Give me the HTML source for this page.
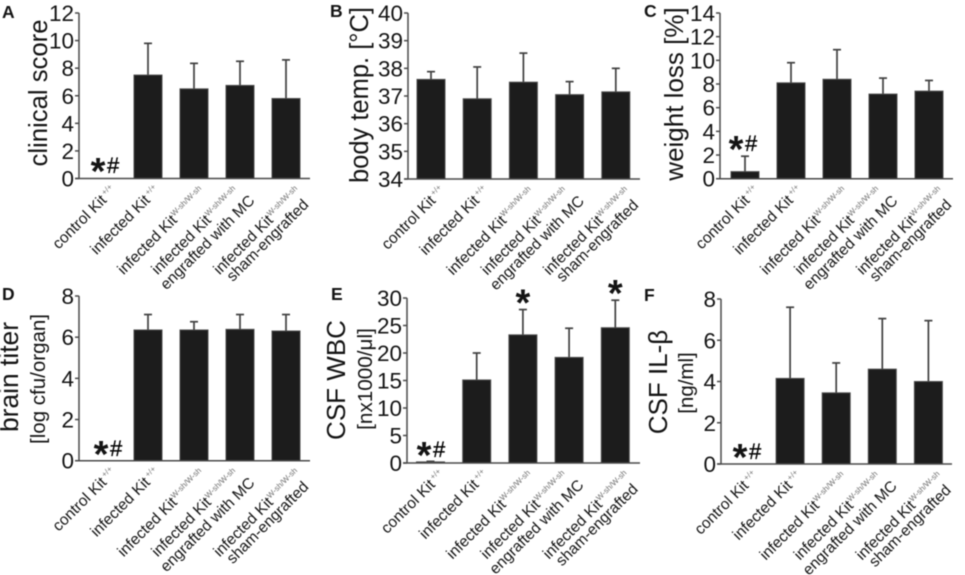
<!DOCTYPE html>
<html>
<head>
<meta charset="utf-8">
<title>Six panel bar charts</title>
<style>
html,body{margin:0;padding:0;background:#fff;width:965px;height:575px;overflow:hidden}
svg{display:block;filter:blur(0.5px)}
text{font-family:"Liberation Sans",Arial,sans-serif;fill:#141414}
</style>
</head>
<body>
<svg id="figure" width="965" height="575" viewBox="0 0 965 575" xmlns="http://www.w3.org/2000/svg"></svg>
<script>
const catLine1 = ['control Kit', 'infected Kit', 'infected Kit', 'infected Kit', 'infected Kit'];
const catSup = ['+/+', '+/+', 'W-sh/W-sh', 'W-sh/W-sh', 'W-sh/W-sh'];
const catLine2 = ['', '', '', 'engrafted with MC', 'sham-engrafted'];

const aTicks = [0, 2, 4, 6, 8, 10, 12];
const aValues = [0, 7.5, 6.5, 6.75, 5.8];
const aErrTops = [0, 9.8, 8.35, 8.5, 8.6];

const bTicks = [34, 35, 36, 37, 38, 39, 40];
const bValues = [37.6, 36.9, 37.5, 37.05, 37.15];
const bErrTops = [37.88, 38.05, 38.55, 37.52, 38.0];

const cTicks = [0, 2, 4, 6, 8, 10, 12, 14];
const cValues = [0.6, 8.1, 8.4, 7.15, 7.4];
const cErrTops = [1.9, 9.8, 10.9, 8.5, 8.3];

const dTicks = [0, 2, 4, 6, 8];
const dValues = [0, 6.35, 6.35, 6.38, 6.3];
const dErrTops = [0, 7.1, 6.75, 7.1, 7.1];

const eTicks = [0, 5, 10, 15, 20, 25, 30];
const eValues = [0.2, 15.1, 23.3, 19.2, 24.6];
const eErrTops = [0.3, 20, 27.9, 24.5, 29.6];

const fTicks = [0, 2, 4, 6, 8];
const fValues = [0, 4.15, 3.45, 4.6, 4];
const fErrTops = [0, 7.6, 4.9, 7.05, 6.95];

const NS = 'http://www.w3.org/2000/svg';
const root = document.getElementById('figure');

function make(parent, tag, attrs, text) {
  const el = document.createElementNS(NS, tag);
  for (const k in attrs) el.setAttribute(k, attrs[k]);
  if (text !== undefined) el.textContent = text;
  parent.appendChild(el);
  return el;
}

function vtext(g, str, x, cy, size, name) {
  const t = make(g, 'text', {
    transform: 'translate(' + x + ',' + cy + ') rotate(-90)',
    'text-anchor': 'middle',
    'font-size': size
  }, str);
  
  
}

function star(g, cx, cy, name) {
  const t = make(g, 'text', {
    x: cx, y: cy + 19, 'text-anchor': 'middle', 'font-size': 38, 'font-weight': 'bold'
  }, '*');
  
  
}

function hash(g, x, y, name) {
  const t = make(g, 'text', { x: x, y: y, 'font-size': 22, style: 'fill:#000;stroke:#000;stroke-width:0.3' }, '#');
  
  
}

function labelShift(i) {
  if (i === 0) return { x1: 15, y1: 13 };
  if (i === 1) return { x1: 12.5, y1: 13 };
  if (i === 2) return { x1: 12, y1: 14.5 };
  if (i === 3) return { x1: 0, y1: 14.5, x2: 15.5, y2: 23 };
  return { x1: 16, y1: 14.5, x2: 23.5, y2: 27 };
}

function drawPanel(p) {
  const g = make(root, 'g', {});
  
  

  const min = p.ticks[0];
  const max = p.ticks[p.ticks.length - 1];
  const yScale = function (v) { return p.bottom - (v - min) / (max - min) * (p.bottom - p.top); };
  const xScale = function (i) { return p.firstX + i * p.stepX; };

  const letter = make(g, 'text', { x: p.letterX, y: p.letterY, 'font-size': 17.5, 'font-weight': 'bold' }, p.id);
  
  

  vtext(g, p.title, p.titleX, p.titleCy, p.titleSize, 'y-axis-title');
  if (p.sub) vtext(g, p.sub, p.subX, p.subCy, p.subSize, 'y-axis-unit');

  p.values.forEach(function (v, i) {
    const cx = xScale(i);
    const top = yScale(v);
    const errTop = yScale(p.errTops[i]);
    if (p.errTops[i] > v) {
      const stem = make(g, 'line', { x1: cx, x2: cx, y1: top, y2: errTop, stroke: '#404040', 'stroke-width': 1.7 });
      
      
      const cap = make(g, 'line', { x1: cx - 4, x2: cx + 4, y1: errTop, y2: errTop, stroke: '#404040', 'stroke-width': 1.7 });
      
      
    }
    if (v > min) {
      const bar = make(g, 'rect', {
        x: cx - 14, y: top, width: 28, height: p.bottom - top,
        fill: '#1c1c1c', stroke: '#4d4d4d', 'stroke-width': 1
      });
      
      
    }
  });

  const yAxis = make(g, 'line', { x1: p.axisX, x2: p.axisX, y1: p.top, y2: p.bottom, stroke: '#4a4a4a', 'stroke-width': 1.5 });
  
  
  const xAxis = make(g, 'line', { x1: p.axisX - 4, x2: p.axisEnd, y1: p.bottom, y2: p.bottom, stroke: '#4a4a4a', 'stroke-width': 1.5 });
  
  

  p.ticks.forEach(function (t) {
    const y = yScale(t);
    const tick = make(g, 'line', { x1: p.axisX - 4, x2: p.axisX, y1: y, y2: y, stroke: '#4a4a4a', 'stroke-width': 1.5 });
    
    
    const label = make(g, 'text', { x: p.axisX - 5, y: y + 8, 'text-anchor': 'end', 'font-size': 22.5 }, String(t));
    
    
  });

  catLine1.forEach(function (line, i) {
    const cx = xScale(i);
    const s = labelShift(i);
    const lab = make(g, 'text', {
      transform: 'translate(' + (cx + s.x1) + ',' + (p.bottom + s.y1) + ') rotate(-45)',
      'text-anchor': 'end', 'font-size': 15.5
    });
    
    
    make(lab, 'tspan', {}, line);
    make(lab, 'tspan', { dx: i < 2 ? 2 : 0.5, dy: -6, 'font-size': 8, style: 'fill:#707070' }, catSup[i]);
    if (catLine2[i] !== '') {
      const lab2 = make(g, 'text', {
        transform: 'translate(' + (cx + s.x2) + ',' + (p.bottom + s.y2) + ') rotate(-45)',
        'text-anchor': 'end', 'font-size': 15.5
      }, catLine2[i]);
      
      
    }
  });

  if (p.sigY !== undefined) {
    const base = xScale(0);
    star(g, base + p.sigDx, p.sigY, 'significance-star');
    hash(g, base + p.sigDx + 9, p.sigY + 8, 'significance-hash');
  }
  (p.starBars || []).forEach(function (i) {
    star(g, xScale(i), yScale(p.errTops[i]) - 13, 'significance-star');
  });
}

drawPanel({ id: 'A', ticks: aTicks, values: aValues, errTops: aErrTops, axisX: 79, axisEnd: 310, top: 13, bottom: 178.5, firstX: 102, stepX: 46,
  letterX: 2, letterY: 18, title: 'clinical score', titleX: 47, titleCy: 93, titleSize: 25.7, sigY: 165, sigDx: -4 });
drawPanel({ id: 'B', ticks: bTicks, values: bValues, errTops: bErrTops, axisX: 408, axisEnd: 640, top: 13, bottom: 179, firstX: 431, stepX: 46.2,
  letterX: 330, letterY: 17, title: 'body temp. [°C]', titleX: 368, titleCy: 95, titleSize: 25.5 });
drawPanel({ id: 'C', ticks: cTicks, values: cValues, errTops: cErrTops, axisX: 720, axisEnd: 953, top: 13, bottom: 178.7, firstX: 745, stepX: 46,
  letterX: 644, letterY: 17, title: 'weight loss [%]', titleX: 683, titleCy: 94, titleSize: 26, sigY: 143, sigDx: -9 });
drawPanel({ id: 'D', ticks: dTicks, values: dValues, errTops: dErrTops, axisX: 79, axisEnd: 310, top: 296, bottom: 460.7, firstX: 102, stepX: 46,
  letterX: 2, letterY: 300, title: 'brain titer', titleX: 18, titleCy: 377, titleSize: 26.4, sub: '[log cfu/organ]', subX: 45, subCy: 379, subSize: 20.5, sigY: 448, sigDx: -1 });
drawPanel({ id: 'E', ticks: eTicks, values: eValues, errTops: eErrTops, axisX: 407, axisEnd: 640, top: 298, bottom: 463, firstX: 430.5, stepX: 46.2,
  letterX: 331, letterY: 300, title: 'CSF WBC', titleX: 345, titleCy: 380, titleSize: 26, sub: '[nx1000/μl]', subX: 372, subCy: 379, subSize: 20.7, sigY: 449, sigDx: -6.5, starBars: [2, 4] });
drawPanel({ id: 'F', ticks: fTicks, values: fValues, errTops: fErrTops, axisX: 721, axisEnd: 952, top: 299, bottom: 464, firstX: 744, stepX: 46.1,
  letterX: 644, letterY: 301, title: 'CSF IL-β', titleX: 667, titleCy: 382, titleSize: 26, sub: '[ng/ml]', subX: 693, subCy: 383, subSize: 20.5, sigY: 451, sigDx: -4 });
</script>
</body>
</html>
